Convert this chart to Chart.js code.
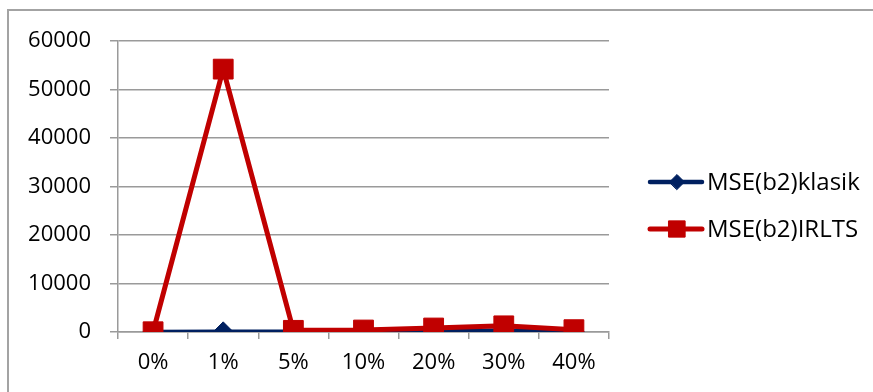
<!DOCTYPE html>
<html>
<head>
<meta charset="utf-8">
<script src="https://cdn.jsdelivr.net/npm/chart.js@4/dist/chart.umd.min.js"></script>
<style>
  html, body { margin: 0; padding: 0; background: #ffffff; }
  #wrap { position: relative; width: 873px; height: 392px; overflow: hidden; background: #ffffff; }
  #frame { position: absolute; left: 7px; top: 9px; width: 900px; height: 420px; border: 2px solid #a3a3a3; box-sizing: border-box; }
  canvas { position: absolute; left: 0; top: 0; }
</style>
</head>
<body>
<div id="wrap">
  <div id="frame"></div>
  <canvas id="chart" width="873" height="392"></canvas>
</div>
<script>
// Contamination levels on the x axis
const categories = ['0%', '1%', '5%', '10%', '20%', '30%', '40%'];

// MSE of b2 for the classical estimator
const mseKlasik = [20, 30, 50, 80, 150, 300, 100];

// MSE of b2 for the IRLTS estimator
const mseIrlts = [50, 54200, 340, 410, 820, 1270, 480];

// Value axis ticks
const yTicks = [0, 10000, 20000, 30000, 40000, 50000, 60000];

const FAMILY = '"Open Sans", Lato, sans-serif';
const TICK_FONT = { family: FAMILY, size: 22 };
const LEGEND_SIZE = 24;
const AXIS_GREY = '#9a9a9a';

// Legend drawn at the right: a short line with the series marker and its name
const sideLegend = {
  id: 'sideLegend',
  afterDraw(chart) {
    const ctx = chart.ctx;
    const rows = [182, 229];
    chart.data.datasets.forEach((ds, i) => {
      const y = rows[i];
      ctx.save();
      ctx.strokeStyle = ds.borderColor;
      ctx.lineWidth = ds.borderWidth;
      ctx.lineCap = 'round';
      ctx.beginPath();
      ctx.moveTo(650, y);
      ctx.lineTo(702, y);
      ctx.stroke();
      ctx.fillStyle = ds.pointBackgroundColor;
      ctx.strokeStyle = ds.pointBorderColor;
      ctx.lineWidth = 1;
      Chart.helpers.drawPoint(ctx, {
        pointStyle: ds.pointStyle,
        radius: ds.legendRadius,
        borderWidth: 1,
        rotation: 0
      }, 677, y);
      ctx.fillStyle = '#000000';
      ctx.font = LEGEND_SIZE + 'px ' + FAMILY;
      ctx.textBaseline = 'middle';
      ctx.textAlign = 'left';
      ctx.fillText(ds.label, 707, y + 1);
      ctx.restore();
    });
  }
};

new Chart(document.getElementById('chart'), {
  type: 'line',
  data: {
    labels: categories,
    datasets: [
      {
        label: 'MSE(b2)klasik',
        data: mseKlasik,
        borderColor: '#002060',
        backgroundColor: '#002060',
        pointBackgroundColor: '#002060',
        pointBorderColor: '#002060',
        borderWidth: 4.5,
        pointStyle: 'rectRot',
        pointRadius: 10,
        pointBorderWidth: 1,
        legendRadius: 7.5,
        tension: 0,
        order: 1
      },
      {
        label: 'MSE(b2)IRLTS',
        data: mseIrlts,
        borderColor: '#c00000',
        backgroundColor: '#c00000',
        pointBackgroundColor: '#c00000',
        pointBorderColor: '#c00000',
        borderWidth: 5,
        pointStyle: 'rect',
        pointRadius: 14,
        pointBorderWidth: 1,
        legendRadius: 11.5,
        tension: 0,
        order: 0
      }
    ]
  },
  options: {
    responsive: false,
    animation: false,
    events: [],
    layout: { padding: { left: 0, top: 41, right: 264, bottom: 0 } },
    plugins: {
      legend: { display: false },
      tooltip: { enabled: false },
      title: { display: false }
    },
    scales: {
      x: {
        offset: true,
        grid: {
          offset: true,
          drawOnChartArea: false,
          drawTicks: true,
          tickLength: 7,
          color: AXIS_GREY,
          lineWidth: 1.5
        },
        border: { display: true, color: AXIS_GREY, width: 1.5 },
        ticks: { color: '#000000', font: TICK_FONT, padding: 11, maxRotation: 0 },
        afterFit(scale) { scale.height = 60; }
      },
      y: {
        min: 0,
        max: 60000,
        afterBuildTicks(scale) { scale.ticks = yTicks.map(v => ({ value: v })); },
        grid: {
          color: AXIS_GREY,
          lineWidth: 1.5,
          tickLength: 8,
          drawTicks: true
        },
        border: { display: true, color: AXIS_GREY, width: 1.5 },
        ticks: {
          color: '#000000',
          font: TICK_FONT,
          padding: 19,
          callback: (v) => String(v)
        },
        afterFit(scale) { scale.width = 118; }
      }
    }
  },
  plugins: [sideLegend]
});
</script>
</body>
</html>
